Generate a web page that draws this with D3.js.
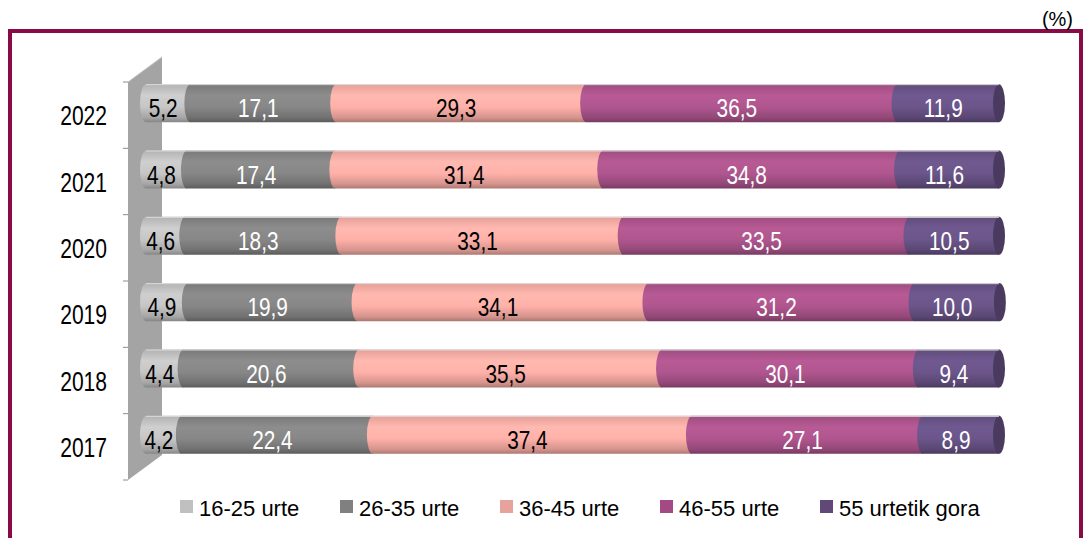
<!DOCTYPE html>
<html>
<head>
<meta charset="utf-8">
<script src="https://cdn.jsdelivr.net/npm/d3@7"></script>
<style>
  html, body { margin: 0; padding: 0; background: #fff; }
  svg { display: block; font-family: "Liberation Sans", Arial, sans-serif; }
</style>
</head>
<body>
<svg id="chart" width="1084" height="538"></svg>
<script>
// ---- data ----
const years = ["2022", "2021", "2020", "2019", "2018", "2017"];
const seriesNames = ["16-25 urte", "26-35 urte", "36-45 urte", "46-55 urte", "55 urtetik gora"];
const s1625 = [5.2, 4.8, 4.6, 4.9, 4.4, 4.2];
const s2635 = [17.1, 17.4, 18.3, 19.9, 20.6, 22.4];
const s3645 = [29.3, 31.4, 33.1, 34.1, 35.5, 37.4];
const s4655 = [36.5, 34.8, 33.5, 31.2, 30.1, 27.1];
const s55 = [11.9, 11.6, 10.5, 10.0, 9.4, 8.9];
const unitLabel = "(%)";

const seriesValues = [s1625, s2635, s3645, s4655, s55];
const baseColors = ["#c6c6c6", "#878787", "#ffb1a9", "#b0568f", "#6b558a"];
const legendColors = ["#c0c0c0", "#808080", "#e6a39b", "#a34a84", "#604878"];
const labelColors = ["#000", "#fff", "#000", "#fff", "#fff"];

const rows = years.map((y, i) => {
  const o = { year: y };
  seriesNames.forEach((n, k) => o[n] = seriesValues[k][i]);
  return o;
});

const svg = d3.select("#chart");
const defs = svg.append("defs");

// border
svg.append("rect")
  .attr("x", 10).attr("y", 31).attr("width", 1071).attr("height", 560)
  .attr("fill", "none").attr("stroke", "#8a0a48").attr("stroke-width", 4);

svg.append("text").attr("x", 1073).attr("y", 26)
  .attr("text-anchor", "end").attr("font-size", 20).attr("fill", "#000")
  .text(unitLabel);

// scales
const x = d3.scaleLinear().domain([0, 100]).range([146, 999]);
const y = d3.scaleBand().domain(years).range([82, 480]).padding(0);
const barH = 38;
const depthDX = 34, depthDY = -25;
const barOffsetY = -12;
const rx = 6;

// wall
const wx0 = 128, wy0 = y.range()[0], wy1 = y.range()[1];
svg.append("path")
  .attr("d", `M${wx0},${wy0} L${wx0 + depthDX},${wy0 + depthDY} L${wx0 + depthDX},${wy1 + depthDY} L${wx0},${wy1} Z`)
  .attr("fill", "#a4a4a4");
svg.append("path")
  .attr("d", `M${wx0},${wy0} L${wx0 + depthDX},${wy0 + depthDY}`)
  .attr("stroke", "#c4c4c4").attr("stroke-width", 1).attr("fill", "none");

// ticks
const tickYs = years.map(d => y(d)).concat([y.range()[1]]);
svg.selectAll("line.tick").data(tickYs).join("line")
  .attr("class", "tick")
  .attr("x1", wx0 - 5).attr("x2", wx0).attr("y1", d => d).attr("y2", d => d)
  .attr("stroke", "#8c8c8c").attr("stroke-width", 1);

// year labels
function squeezeText(sel, sx) {
  sel.attr("transform", function() {
    const t = d3.select(this);
    return `translate(${t.attr("data-x")},${t.attr("data-y")}) scale(${sx},1)`;
  });
}
svg.selectAll("text.year").data(years).join("text")
  .attr("class", "year")
  .attr("data-x", 107).attr("data-y", d => y(d) + y.bandwidth() / 2 + 10)
  .attr("text-anchor", "end").attr("font-size", 27).attr("fill", "#000")
  .text(d => d)
  .call(squeezeText, 0.78);

// gradients for cylinders
function gradFor(id, c) {
  const base = d3.color(c);
  const g = defs.append("linearGradient").attr("id", id)
    .attr("x1", "0").attr("x2", "0").attr("y1", "0").attr("y2", "1");
  g.append("stop").attr("offset", "0%").attr("stop-color", base.darker(0.3));
  g.append("stop").attr("offset", "30%").attr("stop-color", base.brighter(0.12));
  g.append("stop").attr("offset", "60%").attr("stop-color", base);
  g.append("stop").attr("offset", "88%").attr("stop-color", base.darker(0.5));
  g.append("stop").attr("offset", "100%").attr("stop-color", base.darker(1.1));
}
baseColors.forEach((c, k) => gradFor("g" + k, c));

const stack = d3.stack().keys(seriesNames);
const stacked = stack(rows);

const fmt = d3.formatLocale({ decimal: ",", thousands: ".", grouping: [3], currency: ["", ""] }).format(".1f");

const barTop = d => y(d.data.year) + (y.bandwidth() - barH) / 2 + barOffsetY;

const layers = svg.selectAll("g.layer").data(stacked).join("g")
  .attr("class", "layer");

layers.selectAll("path.seg").data((s, k) => s.map(d => ({ d, k }))).join("path")
  .attr("class", "seg")
  .attr("d", ({ d }) => {
    const x0 = x(d[0]), x1 = x(d[1]), t = barTop(d), b = t + barH;
    return `M${x0},${t} H${x1} V${b} H${x0} A${rx},${barH / 2} 0 0 1 ${x0},${t} Z`;
  })
  .attr("fill", ({ k }) => `url(#g${k})`);

// end caps
const last = stacked[stacked.length - 1];
svg.selectAll("ellipse.cap").data(last).join("ellipse")
  .attr("class", "cap")
  .attr("cx", d => x(d[1])).attr("cy", d => barTop(d) + barH / 2)
  .attr("rx", rx).attr("ry", barH / 2)
  .attr("fill", "#4a3a5f");

// top edge highlights
svg.selectAll("line.edge").data(stacked[0]).join("line")
  .attr("class", "edge")
  .attr("x1", d => x(0)).attr("x2", d => x(100))
  .attr("y1", d => barTop(d) + 0.5).attr("y2", d => barTop(d) + 0.5)
  .attr("stroke", "#dcdcdc").attr("stroke-width", 1);

// data labels
layers.selectAll("text.val").data((s, k) => s.map(d => ({ d, k }))).join("text")
  .attr("class", "val")
  .attr("data-x", ({ d }) => (x(d[0]) + x(d[1])) / 2 - 5)
  .attr("data-y", ({ d }) => barTop(d) + barH / 2 + 14)
  .attr("text-anchor", "middle").attr("font-size", 26)
  .attr("fill", ({ k }) => labelColors[k])
  .text(({ d }) => fmt(d[1] - d[0]))
  .call(squeezeText, 0.8);

// legend
const legendX = [180, 340, 500, 660, 820];
const lg = svg.selectAll("g.leg").data(seriesNames).join("g")
  .attr("class", "leg")
  .attr("transform", (d, i) => `translate(${legendX[i]},500)`);
lg.append("rect").attr("width", 13).attr("height", 13)
  .attr("fill", (d, i) => legendColors[i]);
lg.append("text").attr("x", 19).attr("y", 15.5)
  .attr("font-size", 22).attr("fill", "#000")
  .text(d => d);
</script>
</body>
</html>
